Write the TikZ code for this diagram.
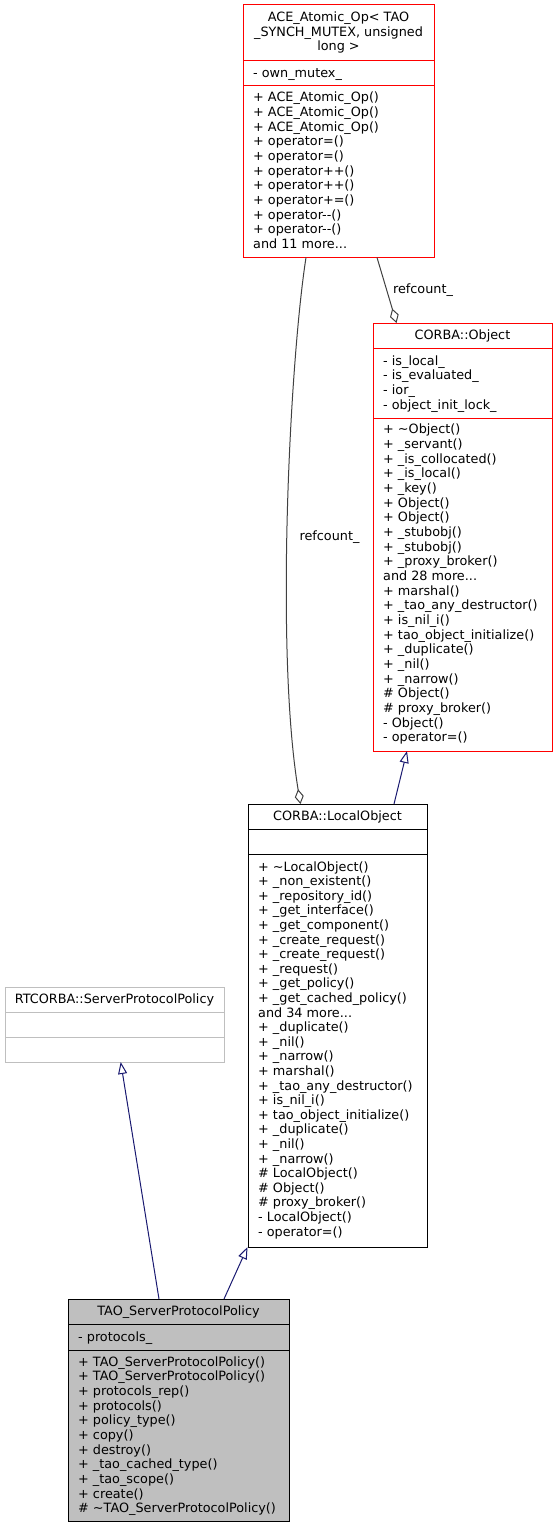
\documentclass[tikz,border=0pt]{standalone}
\usepackage{fontspec}
\setmainfont{DejaVu Sans}
\usetikzlibrary{arrows.meta}
\definecolor{edgegrey}{HTML}{404040}
\definecolor{inhblue}{HTML}{191970}
\definecolor{greyseventyfive}{HTML}{BFBFBF}
\definecolor{truncred}{HTML}{FF0000}
\newcommand{\tdots}{.{}.{}.}
\tikzset{
  txt/.style={anchor=base west, inner sep=0pt, font=\fontsize{12.8}{14.67}\selectfont},
  ttl/.style={anchor=base, inner sep=0pt, font=\fontsize{12.8}{14.67}\selectfont},
  boxbase/.style={anchor=north west, inner sep=0pt, outer sep=0pt, line width=1pt},
  redbox/.style={boxbase, draw=truncred, fill=white},
  blackbox/.style={boxbase, draw=black, fill=white},
  greybox/.style={boxbase, draw=greyseventyfive, fill=white},
  focusbox/.style={boxbase, draw=black, fill=greyseventyfive},
  inherit/.style={draw=inhblue, line width=1pt, -{Triangle[open, length=12pt, width=9pt]}},
  usage/.style={draw=edgegrey, line width=1pt, -{Diamond[open, length=15pt, width=9pt]}},
  elabel/.style={inner sep=0pt, font=\fontsize{12.8}{14.67}\selectfont},
}
\begin{document}
\begin{tikzpicture}[x=1pt, y=-1pt]
\useasboundingbox (0,0) rectangle (557,1528);

% ---------- ACE_Atomic_Op ----------
\node[redbox, minimum width=191pt, minimum height=252pt] (ace) at (243,5) {};
\draw[truncred, line width=1pt] (243,60.7) -- (434,60.7);
\draw[truncred, line width=1pt] (243,85.7) -- (434,85.7);
\node[ttl] (ace-t0) at (338.5,21.5) {ACE\_Atomic\_Op< TAO};
\node[ttl] (ace-t1) at (338.5,36.2) {\_SYNCH\_MUTEX, unsigned};
\node[ttl] (ace-t2) at (338.5,50.9) {long >};
\node[txt] (ace-a0) at (253,77.4) {- own\_mutex\_};
\foreach \t [count=\i from 0] in {
  {+ ACE\_Atomic\_Op()},{+ ACE\_Atomic\_Op()},{+ ACE\_Atomic\_Op()},
  {+ operator=()},{+ operator=()},{+ operator++()},{+ operator++()},
  {+ operator+=()},{+ operator-{}-()},{+ operator-{}-()},{and 11 more\tdots}}
  \node[txt] (ace-m\i) at (253,{101.7+14.67*\i}) {\t};

% ---------- CORBA::Object ----------
\node[redbox, minimum width=179pt, minimum height=428pt] (obj) at (373,323) {};
\draw[truncred, line width=1pt] (373,348) -- (552,348);
\draw[truncred, line width=1pt] (373,418) -- (552,418);
\node[ttl] (obj-t) at (462.5,339.4) {CORBA::Object};
\foreach \t [count=\i from 0] in {
  {- is\_local\_},{- is\_evaluated\_},{- ior\_},{- object\_init\_lock\_}}
  \node[txt] (obj-a\i) at (383,{365+14.67*\i}) {\t};
\foreach \t [count=\i from 0] in {
  {+ \textasciitilde Object()},{+ \_servant()},{+ \_is\_collocated()},{+ \_is\_local()},
  {+ \_key()},{+ Object()},{+ Object()},{+ \_stubobj()},{+ \_stubobj()},
  {+ \_proxy\_broker()},{and 28 more\tdots},{+ marshal()},{+ \_tao\_any\_destructor()},
  {+ is\_nil\_i()},{+ tao\_object\_initialize()},{+ \_duplicate()},{+ \_nil()},
  {+ \_narrow()},{\# Object()},{\# proxy\_broker()},{- Object()},{- operator=()}}
  \node[txt] (obj-m\i) at (383,{433.7+14.67*\i}) {\t};

% ---------- CORBA::LocalObject ----------
\node[blackbox, minimum width=179pt, minimum height=443pt] (lo) at (248,804) {};
\draw[black, line width=1pt] (248,829) -- (427,829);
\draw[black, line width=1pt] (248,854) -- (427,854);
\node[ttl] (lo-t) at (337.5,820.4) {CORBA::LocalObject};
\foreach \t [count=\i from 0] in {
  {+ \textasciitilde LocalObject()},{+ \_non\_existent()},{+ \_repository\_id()},
  {+ \_get\_interface()},{+ \_get\_component()},{+ \_create\_request()},
  {+ \_create\_request()},{+ \_request()},{+ \_get\_policy()},
  {+ \_get\_cached\_policy()},{and 34 more\tdots},{+ \_duplicate()},{+ \_nil()},
  {+ \_narrow()},{+ marshal()},{+ \_tao\_any\_destructor()},{+ is\_nil\_i()},
  {+ tao\_object\_initialize()},{+ \_duplicate()},{+ \_nil()},{+ \_narrow()},
  {\# LocalObject()},{\# Object()},{\# proxy\_broker()},{- LocalObject()},
  {- operator=()}}
  \node[txt] (lo-m\i) at (258,{871+14.6*\i}) {\t};

% ---------- RTCORBA::ServerProtocolPolicy ----------
\node[greybox, minimum width=219pt, minimum height=75pt] (rt) at (5,987) {};
\draw[greyseventyfive, line width=1pt] (5,1012.3) -- (224,1012.3);
\draw[greyseventyfive, line width=1pt] (5,1037.7) -- (224,1037.7);
\node[ttl] (rt-t) at (114.5,1003.4) {RTCORBA::ServerProtocolPolicy};

% ---------- TAO_ServerProtocolPolicy ----------
\node[focusbox, minimum width=221pt, minimum height=222pt] (tao) at (68,1299) {};
\draw[black, line width=1pt] (68,1324.3) -- (289,1324.3);
\draw[black, line width=1pt] (68,1350) -- (289,1350);
\node[ttl] (tao-t) at (178.5,1315) {TAO\_ServerProtocolPolicy};
\node[txt] (tao-a0) at (78,1341) {- protocols\_};
\foreach \t [count=\i from 0] in {
  {+ TAO\_ServerProtocolPolicy()},{+ TAO\_ServerProtocolPolicy()},
  {+ protocols\_rep()},{+ protocols()},{+ policy\_type()},{+ copy()},
  {+ destroy()},{+ \_tao\_cached\_type()},{+ \_tao\_scope()},{+ create()},
  {\# \textasciitilde TAO\_ServerProtocolPolicy()}}
  \node[txt] (tao-m\i) at (78,{1366+14.67*\i}) {\t};

% ---------- connectors ----------
\coordinate (ace-b1) at (377,257.5);
\coordinate (obj-top) at (396.5,323);
\coordinate (ace-b2) at (306,257.5);
\coordinate (lo-top) at (300.5,804);
\coordinate (lo-top2) at (394,804);
\coordinate (obj-bot) at (407,751);
\coordinate (tao-top1) at (159,1299);
\coordinate (rt-bot) at (120.7,1062);
\coordinate (tao-top2) at (224,1299);
\coordinate (lo-bot) at (247.5,1247);

\draw[usage] (ace-b1) -- (obj-top);
\node[elabel] (lbl1) at (423,290) {refcount\_};
\draw[usage] (ace-b2) .. controls (290,360) and (275,650) .. (lo-top);
\node[elabel] (lbl2) at (329.5,537) {refcount\_};
\draw[inherit] (lo-top2) -- (obj-bot);
\draw[inherit] (tao-top1) -- (rt-bot);
\draw[inherit] (tao-top2) -- (lo-bot);
\end{tikzpicture}
\end{document}
